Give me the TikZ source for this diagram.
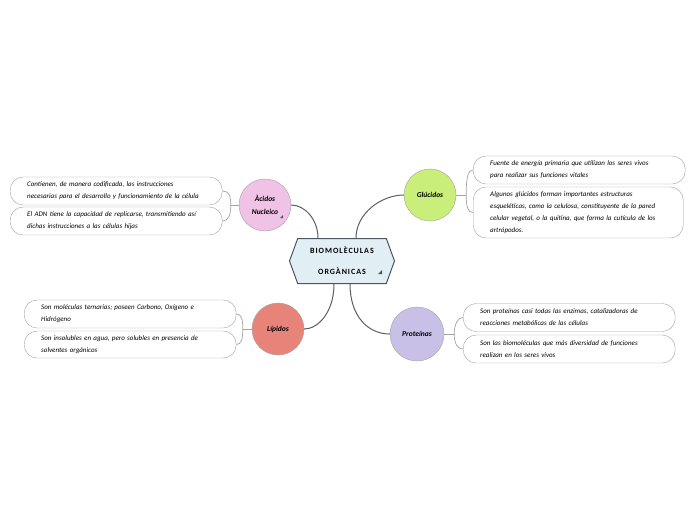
\documentclass[tikz,border=0pt]{standalone}
\usepackage{fontspec}
\setmainfont{Carlito}
\usetikzlibrary{shapes.symbols,calc}
\definecolor{linegray}{HTML}{5A5F66}
\definecolor{rimgray}{HTML}{A3A3A3}
\definecolor{hexfill}{HTML}{E1EEF4}
\definecolor{hexdraw}{HTML}{4D5660}
\definecolor{pinkfill}{HTML}{F0C2E6}
\definecolor{limefill}{HTML}{C9EE7A}
\definecolor{redfill}{HTML}{E8837A}
\definecolor{lilacfill}{HTML}{C8C0E6}

\begin{document}
\begin{tikzpicture}[x=1pt,y=-1pt,
  core/.style={signal,signal to=east and west,signal pointer angle=140,draw=hexdraw,fill=hexfill,line width=1pt,minimum width=105pt,minimum height=45pt,align=center,font=\fontsize{8}{21}\selectfont\bfseries\addfontfeature{LetterSpace=12}},
  topic/.style={circle,draw=rimgray,minimum size=52pt,inner sep=0pt,align=center,font=\fontsize{7.5}{13}\selectfont\bfseries\itshape},
  leaf/.style={draw=rimgray,fill=white,rounded corners=13pt,minimum width=212pt,minimum height=28pt,inner xsep=17pt,inner ysep=2pt,text width=178pt,align=left,font=\fontsize{7}{12}\selectfont\itshape},
  link/.style={linegray,line width=1pt},
  fork/.style={rimgray,line width=0.7pt}]
\useasboundingbox[fill=white] (0,0) rectangle (696,520);

% centre
\node[core] (bio) at (342,261) {BIOMOLÈCULAS\\ORGÀNICAS};
\fill[hexdraw] (378,274)--(382,274)--(382,270)--cycle;

% topics
\node[topic,fill=pinkfill] (acidos) at (265,205) {Àcidos\\Nucleico};
\fill[hexdraw] (280,218)--(283,218)--(283,215)--cycle;
\node[topic,fill=limefill] (glucidos) at (430,195) {Glúcidos};
\node[topic,fill=redfill] (lipidos) at (278,329) {Lípidos};
\node[topic,fill=lilacfill,minimum size=54pt] (proteinas) at (417,334) {Proteínas};

\draw[link] ($(bio.north)+(-24,0)$) .. controls +(0,-18) and +(14,0) .. (acidos.east);
\draw[link] ($(bio.north)+(14,0)$) .. controls +(0,-25) and +(-22,0) .. (glucidos.west);
\draw[link] ($(bio.south)+(-8,0)$) .. controls +(0,28) and +(14,0) .. (lipidos.east);
\draw[link] ($(bio.south)+(8,0)$) .. controls +(0,32) and +(-22,0) .. (proteinas.west);

% leaves
\node[leaf,anchor=west] (ac1) at (10,191) {Contienen, de manera codificada, las instrucciones\\necesarias para el desarrollo y funcionamiento de la célula};
\node[leaf,anchor=west] (ac2) at (10,221) {El ADN tiene la capacidad de replicarse, transmitiendo así\\dichas instrucciones a las células hijas};
\node[leaf,anchor=west] (gl1) at (473,170) {Fuente de energía primaria que utilizan los seres vivos\\para realizar sus funciones vitales};
\node[leaf,anchor=west,minimum width=210pt,text width=176pt,minimum height=51pt] (gl2) at (473,212.5) {Algunos glúcidos forman importantes estructuras\\esqueléticas, como la celulosa, constituyente de la pared\\celular vegetal, o la quitina, que forma la cutícula de los\\artrópodos.};
\node[leaf,anchor=west] (li1) at (24,314) {Son moléculas ternarias; poseen Carbono, Oxígeno e\\Hidrógeno};
\node[leaf,anchor=west,minimum height=27pt] (li2) at (24,344.5) {Son insolubles en agua, pero solubles en presencia de\\solventes orgánicos};
\node[leaf,anchor=west] (pr1) at (463,317.5) {Son proteínas casi todas las enzimas, catalizadoras de\\reacciones metabólicas de las células};
\node[leaf,anchor=west] (pr2) at (463,349) {Son las biomoléculas que más diversidad de funciones\\realizan en los seres vivos};

% forks
\coordinate (acj) at ($(acidos.west)+(-8,0)$);
\coordinate (glj) at ($(glucidos.east)+(10,0)$);
\coordinate (lij) at ($(lipidos.west)+(-9,0)$);
\coordinate (prj) at ($(proteinas.east)+(10,0)$);
\draw[fork] (acidos.west) -- (acj);
\draw[fork] (acj) .. controls +(0,-10) and +(6,0) .. (ac1.east);
\draw[fork] (acj) .. controls +(0,10) and +(6,0) .. (ac2.east);
\draw[fork] (glucidos.east) -- (glj);
\draw[fork] (glj) .. controls +(0,-18) and +(-5,0) .. (gl1.west);
\draw[fork] (glj) .. controls +(0,12) and +(-5,0) .. (gl2.west);
\draw[fork] (lipidos.west) -- (lij);
\draw[fork] (lij) .. controls +(0,-10) and +(5,0) .. (li1.east);
\draw[fork] (lij) .. controls +(0,10) and +(5,0) .. (li2.east);
\draw[fork] (proteinas.east) -- (prj);
\draw[fork] (prj) .. controls +(0,-10) and +(-5,0) .. (pr1.west);
\draw[fork] (prj) .. controls +(0,10) and +(-5,0) .. (pr2.west);
\end{tikzpicture}
\end{document}
